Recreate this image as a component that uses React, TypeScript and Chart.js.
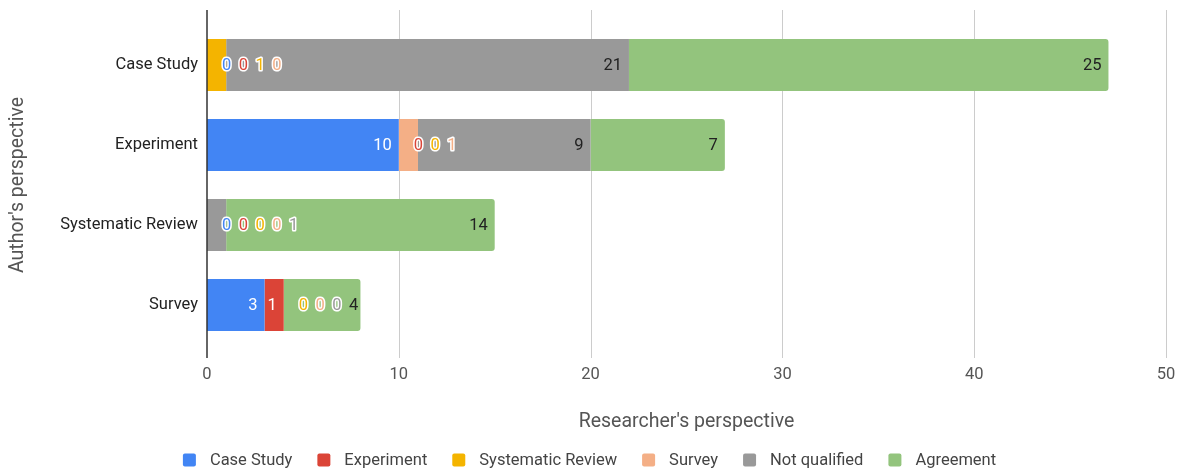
import React, { useEffect, useRef } from "react";
import { Chart, registerables } from "chart.js";

Chart.register(...registerables);

const categories = ["Case Study", "Experiment", "Systematic Review", "Survey"];
const seriesNames = ["Case Study", "Experiment", "Systematic Review", "Survey", "Not qualified", "Agreement"];
const caseStudyValues = [0, 10, 0, 3];
const experimentValues = [0, 0, 0, 1];
const systematicReviewValues = [1, 0, 0, 0];
const surveyValues = [0, 1, 0, 0];
const notQualifiedValues = [21, 9, 1, 0];
const agreementValues = [25, 7, 14, 4];
const xTickValues = [0, 10, 20, 30, 40, 50];
const seriesColors = ["#4285F4", "#DB4437", "#F4B400", "#F4AF86", "#999999", "#93C47D"];
const insideTextColors = ["#ffffff", "#ffffff", "#222222", "#222222", "#222222", "#222222"];

const FONT = "Roboto, 'Noto Sans', Arial, sans-serif";
const LABEL_SIZE = 16.5;
const TITLE_SIZE = 19.5;

const extrasPlugin = {
  id: "extras",
  beforeDatasetsDraw(chart: any) {
    const { ctx, chartArea, scales } = chart;
    const x = scales.x;
    ctx.save();
    ctx.strokeStyle = "#cccccc";
    ctx.lineWidth = 1;
    for (const v of xTickValues) {
      if (v === 0) continue;
      const px = Math.round(x.getPixelForValue(v)) + 0.5;
      ctx.beginPath();
      ctx.moveTo(px, chartArea.top - 15);
      ctx.lineTo(px, chartArea.bottom + 13);
      ctx.stroke();
    }
    ctx.restore();
  },
  afterDatasetsDraw(chart: any) {
    const { ctx, chartArea, scales } = chart;
    const x = scales.x;
    ctx.save();
    ctx.strokeStyle = "#333333";
    ctx.lineWidth = 1.5;
    const zx = x.getPixelForValue(0);
    ctx.beginPath();
    ctx.moveTo(zx, chartArea.top - 15);
    ctx.lineTo(zx, chartArea.bottom + 13);
    ctx.stroke();

    ctx.font = `${LABEL_SIZE}px ${FONT}`;
    ctx.textAlign = "left";
    ctx.textBaseline = "middle";
    const datasets = chart.data.datasets;
    for (let i = 0; i < categories.length; i++) {
      let cursor = -Infinity;
      let cum = 0;
      for (let d = 0; d < datasets.length; d++) {
        const v = datasets[d].data[i] as number;
        const xs = x.getPixelForValue(cum);
        cum += v;
        const xe = x.getPixelForValue(cum);
        const bar = chart.getDatasetMeta(d).data[i];
        const y = bar.y + 1;
        const text = String(v);
        const w = ctx.measureText(text).width;
        const desired = xe - 7 - w;
        let left = Math.max(desired, cursor);
        if (v > 0 && left >= xs && left + w <= xe) {
          ctx.fillStyle = insideTextColors[d];
          ctx.fillText(text, left, y);
        } else {
          left = Math.max(cursor, xe + 15);
          ctx.lineJoin = "round";
          ctx.strokeStyle = "#ffffff";
          ctx.lineWidth = 3;
          ctx.strokeText(text, left, y);
          ctx.fillStyle = seriesColors[d];
          ctx.fillText(text, left, y);
        }
        cursor = left + w + 7.5;
      }
    }
    ctx.restore();
  },
  afterDraw(chart: any) {
    const { ctx, width } = chart;
    ctx.save();
    ctx.font = `${LABEL_SIZE}px ${FONT}`;
    ctx.textBaseline = "middle";
    ctx.textAlign = "left";
    const box = 13;
    const gapText = 14;
    const gapItem = 25;
    const widths = seriesNames.map((n) => ctx.measureText(n).width);
    let total = 0;
    widths.forEach((w, k) => {
      total += box + gapText + w + (k < widths.length - 1 ? gapItem : 0);
    });
    let xPos = (width - total) / 2;
    const yc = 460;
    seriesNames.forEach((n, k) => {
      ctx.fillStyle = seriesColors[k];
      ctx.beginPath();
      (ctx as any).roundRect(xPos, yc - box / 2, box, box, 2);
      ctx.fill();
      ctx.fillStyle = "#444444";
      ctx.fillText(n, xPos + box + gapText, yc + 1);
      xPos += box + gapText + widths[k] + gapItem;
    });
    ctx.restore();
  },
};

export default function App() {
  const canvasRef = useRef<HTMLCanvasElement | null>(null);

  useEffect(() => {
    document.body.style.margin = "0";
    const canvas = canvasRef.current;
    if (!canvas) return;
    const valueArrays = [
      caseStudyValues,
      experimentValues,
      systematicReviewValues,
      surveyValues,
      notQualifiedValues,
      agreementValues,
    ];
    const chart = new Chart(canvas, {
      type: "bar",
      data: {
        labels: categories,
        datasets: seriesNames.map((name, k) => ({
          label: name,
          data: valueArrays[k],
          backgroundColor: seriesColors[k],
          borderWidth: 0,
          borderRadius: k === seriesNames.length - 1 ? 3 : 0,
          borderSkipped: "start",
          barPercentage: 0.65,
          categoryPercentage: 1,
        })),
      },
      options: {
        indexAxis: "y",
        animation: false,
        responsive: true,
        maintainAspectRatio: false,
        layout: { padding: { top: 25, right: 13, bottom: 35, left: 0 } },
        plugins: {
          legend: { display: false },
          tooltip: { enabled: false },
        },
        scales: {
          x: {
            stacked: true,
            min: 0,
            max: 50,
            ticks: {
              stepSize: 10,
              color: "#555555",
              font: { family: FONT, size: LABEL_SIZE },
              padding: 20,
            },
            grid: { display: false, drawTicks: false },
            border: { display: false },
            title: {
              display: true,
              text: "Researcher's perspective",
              color: "#555555",
              font: { family: FONT, size: TITLE_SIZE },
            },
            afterFit(s: any) {
              s.height = 93;
              s.paddingLeft = 0;
              s.paddingRight = 0;
            },
          },
          y: {
            stacked: true,
            ticks: {
              color: "#222222",
              font: { family: FONT, size: LABEL_SIZE },
              padding: 9,
            },
            grid: { display: false, drawTicks: false },
            border: { display: false },
            title: {
              display: true,
              text: "Author's perspective",
              color: "#555555",
              font: { family: FONT, size: TITLE_SIZE },
              padding: { top: 6, bottom: 4 },
            },
            afterFit(s: any) {
              s.width = 207;
              s.paddingTop = 0;
              s.paddingBottom = 0;
            },
          },
        },
      },
      plugins: [extrasPlugin],
    } as any);
    return () => chart.destroy();
  }, []);

  return (
    <div style={{ position: "relative", width: 1179, height: 473 }}>
      <canvas ref={canvasRef} />
    </div>
  );
}
